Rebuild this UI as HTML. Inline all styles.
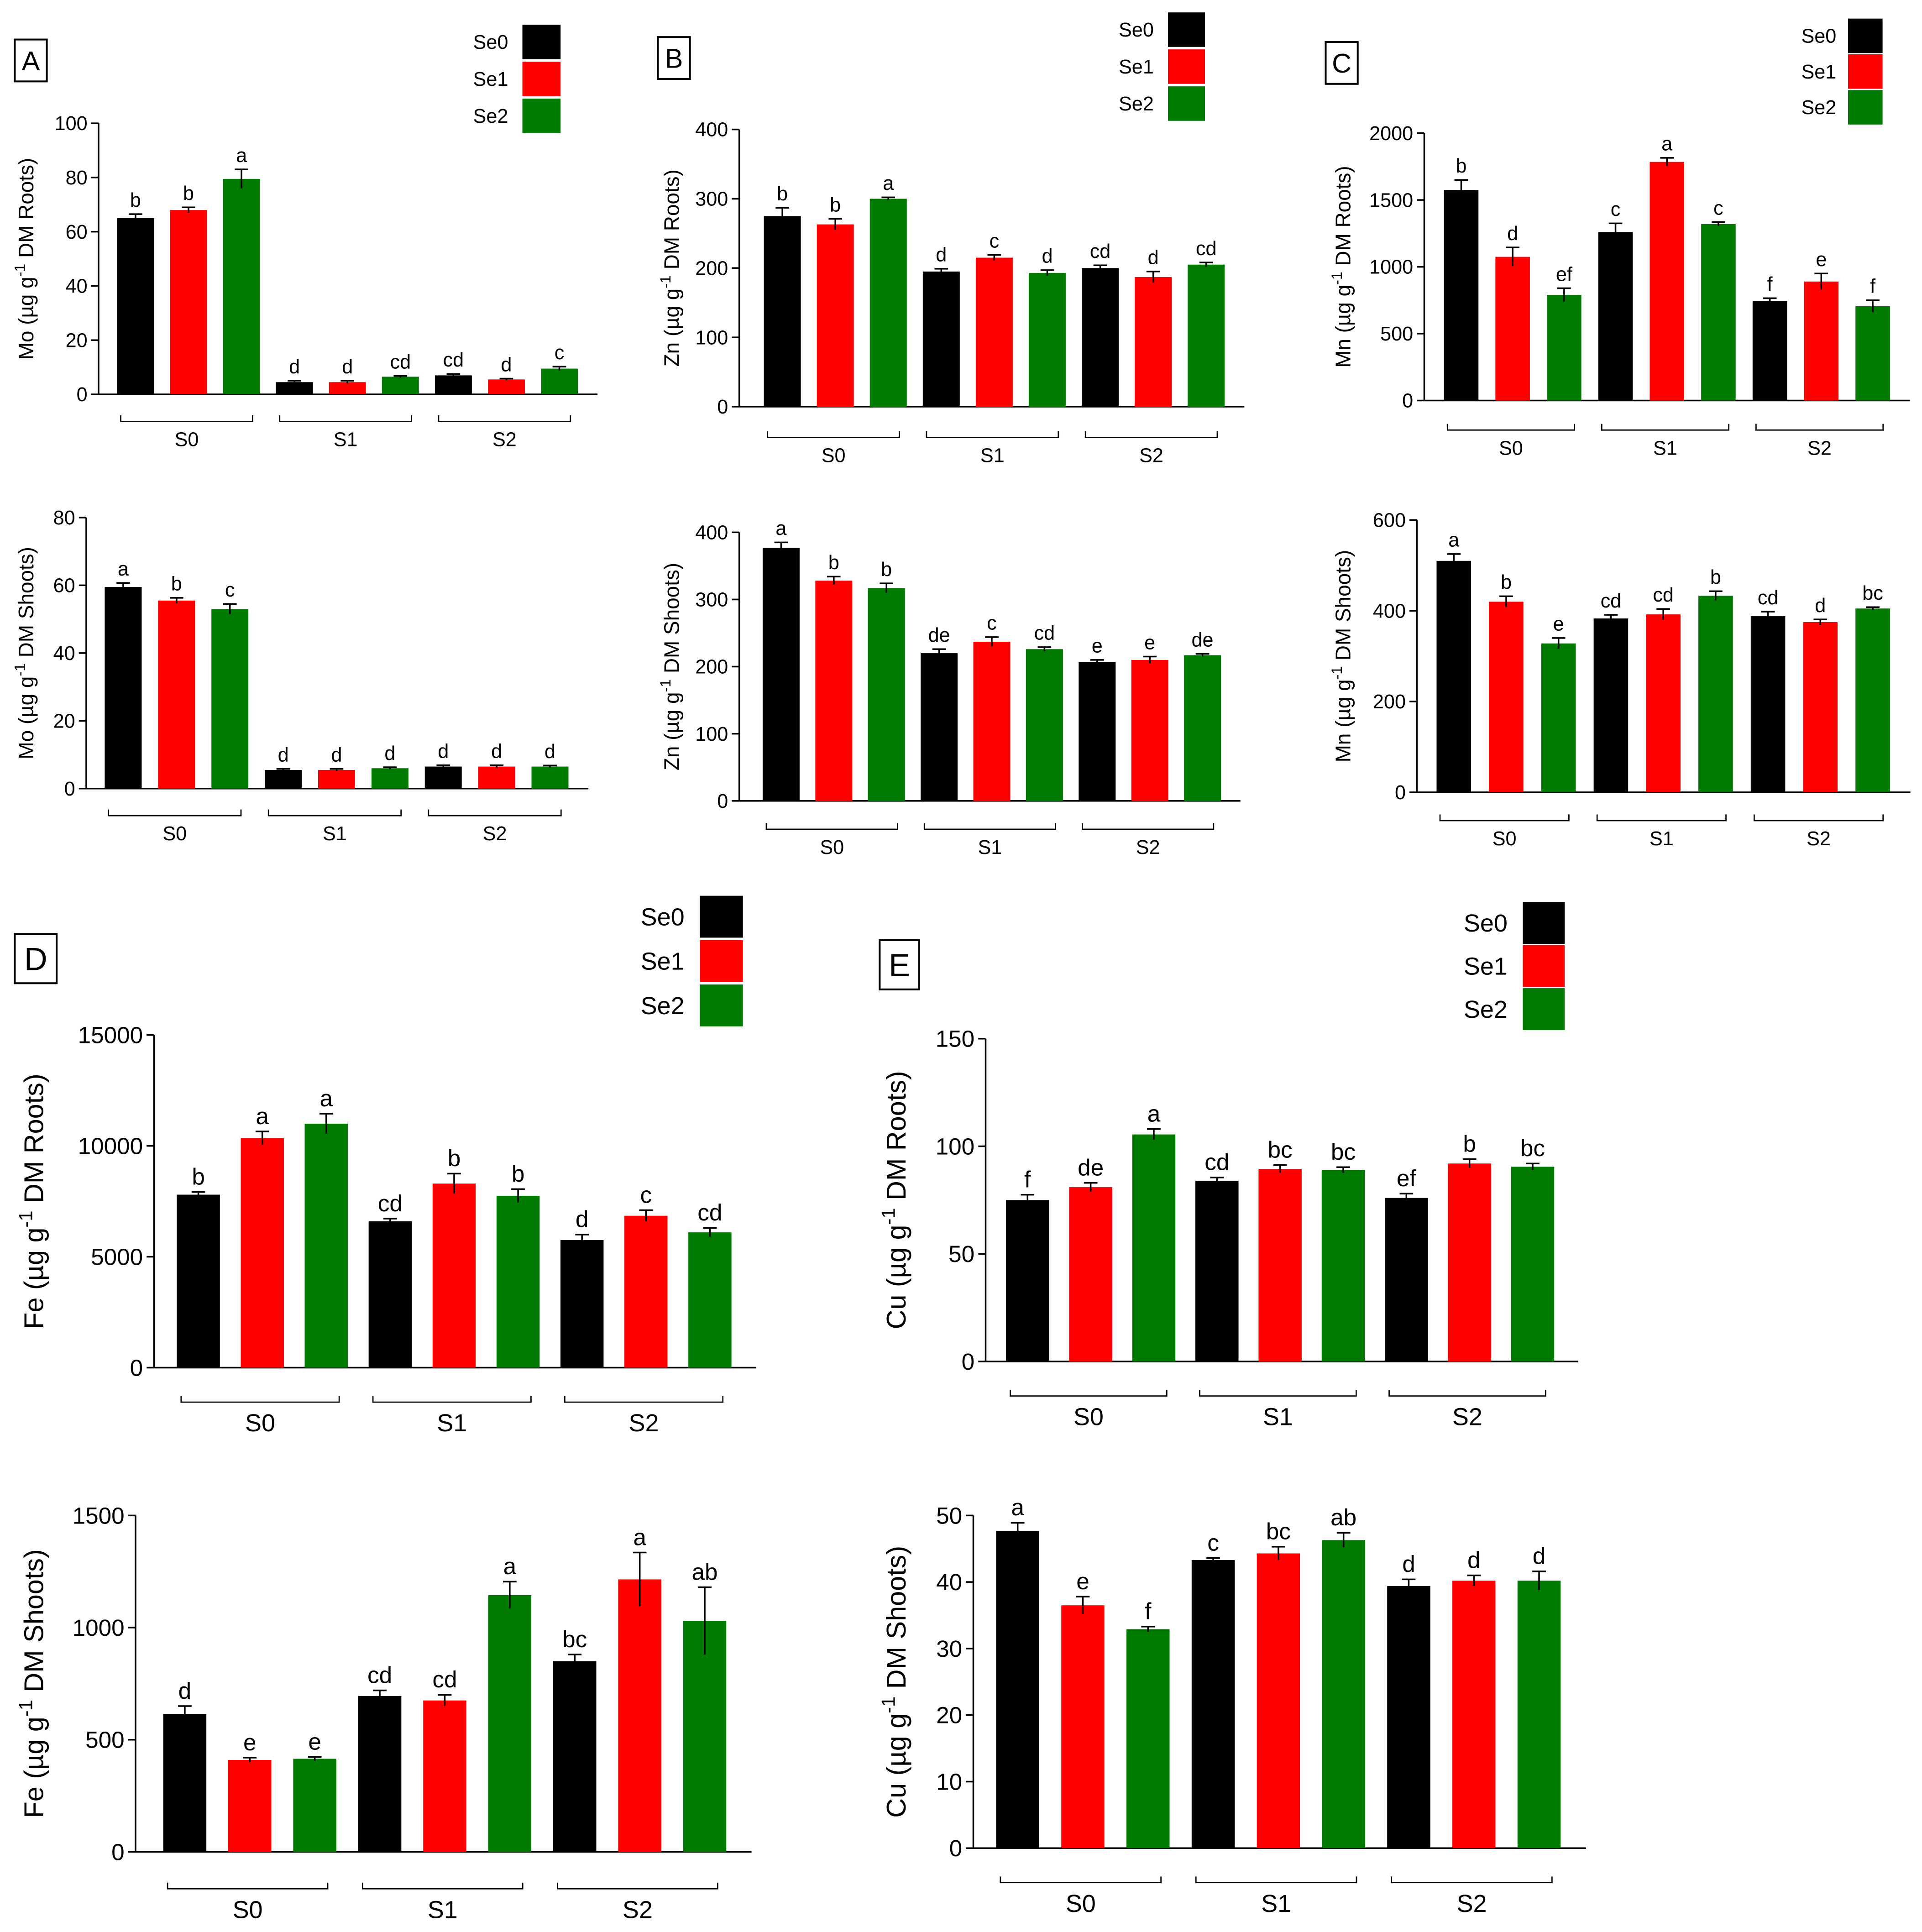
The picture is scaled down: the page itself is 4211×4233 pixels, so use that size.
<!DOCTYPE html>
<html><head><meta charset="utf-8"><style>
html,body{margin:0;padding:0;background:#fff}
svg{display:block}
text{font-family:"Liberation Sans",Arial,sans-serif;fill:#000}
</style></head><body>
<svg id="fig" width="4211" height="4233" viewBox="0 0 1560 1568" xmlns="http://www.w3.org/2000/svg"></svg>
<script>
const groupLabels = ["S0","S1","S2"];
const seriesNames = ["Se0","Se1","Se2"];
const seriesColors = ["#000000","#ff0000","#007a00"];

const moRootVals = [65,68,79.5,4.5,4.5,6.5,7,5.5,9.5];
const moRootErr = [1.5,1,3.5,0.5,0.5,0.3,0.5,0.3,0.7];
const moRootLet = ["b","b","a","d","d","cd","cd","d","c"];
const moRootTicks = [0,20,40,60,80,100];

const moShootVals = [59.5,55.5,53,5.5,5.5,6,6.5,6.5,6.5];
const moShootErr = [1.2,0.8,1.5,0.3,0.3,0.3,0.4,0.4,0.3];
const moShootLet = ["a","b","c","d","d","d","d","d","d"];
const moShootTicks = [0,20,40,60,80];

const znRootVals = [275,263,300,195,215,193,200,187,205];
const znRootErr = [12,8,2,4,4,4,4,8,3];
const znRootLet = ["b","b","a","d","c","d","cd","d","cd"];
const znRootTicks = [0,100,200,300,400];

const znShootVals = [377,328,317,220,237,226,207,210,217];
const znShootErr = [8,6,7,6,7,3,3,5,2];
const znShootLet = ["a","b","b","de","c","cd","e","e","de"];
const znShootTicks = [0,100,200,300,400];

const mnRootVals = [1575,1075,790,1260,1785,1320,745,890,705];
const mnRootErr = [75,70,50,65,30,15,20,60,45];
const mnRootLet = ["b","d","ef","c","a","c","f","e","f"];
const mnRootTicks = [0,500,1000,1500,2000];

const mnShootVals = [510,420,328,383,392,433,388,375,405];
const mnShootErr = [15,12,12,8,12,10,10,6,3];
const mnShootLet = ["a","b","e","cd","cd","b","cd","d","bc"];
const mnShootTicks = [0,200,400,600];

const feRootVals = [7800,10350,11000,6600,8300,7750,5750,6850,6100];
const feRootErr = [120,300,450,120,450,300,250,250,200];
const feRootLet = ["b","a","a","cd","b","b","d","c","cd"];
const feRootTicks = [0,5000,10000,15000];

const feShootVals = [615,410,415,695,675,1145,850,1215,1030];
const feShootErr = [35,10,8,25,25,60,30,120,150];
const feShootLet = ["d","e","e","cd","cd","a","bc","a","ab"];
const feShootTicks = [0,500,1000,1500];

const cuRootVals = [75,81,105.5,84,89.5,89,76,92,90.5];
const cuRootErr = [2.5,2,2.5,1.5,1.8,1.3,2,2,1.5];
const cuRootLet = ["f","de","a","cd","bc","bc","ef","b","bc"];
const cuRootTicks = [0,50,100,150];

const cuShootVals = [47.7,36.5,32.9,43.3,44.3,46.3,39.4,40.2,40.2];
const cuShootErr = [1.2,1.3,0.4,0.3,1,1.1,1,0.8,1.4];
const cuShootLet = ["a","e","f","c","bc","ab","d","d","d"];
const cuShootTicks = [0,10,20,30,40,50];

const svg = document.getElementById('fig');
const NS = "http://www.w3.org/2000/svg";
function mk(tag, attrs, parent){
  const e = document.createElementNS(NS, tag);
  for (const k in attrs) e.setAttribute(k, attrs[k]);
  (parent||svg).appendChild(e);
  return e;
}

function chart(o){
  const g = mk('g', {});
  
  
  const maxV = o.ticks[o.ticks.length-1];
  const yScale = v => o.y0 - (v/maxV)*(o.y0-o.y1);
  const xScale = i => o.c0 + i*o.step;
  const fs = o.fs;
  const ya = mk('line', {x1:o.ax, x2:o.ax, y1:o.y1, y2:o.y0, stroke:'#000','stroke-width':1.3}, g);
  
  
  const xEnd = xScale(8) + o.step*0.72;
  const xa = mk('line', {x1:o.ax, x2:xEnd, y1:o.y0, y2:o.y0, stroke:'#000','stroke-width':1.3}, g);
  
  
  o.ticks.forEach(t => {
    const y = yScale(t);
    mk('line', {x1:o.ax-6, x2:o.ax, y1:y, y2:y, stroke:'#000','stroke-width':1.3}, g);
    const tl = mk('text', {x:o.ax-9, y:y+fs*0.35, 'text-anchor':'end','font-size':fs}, g);
    
    
    tl.textContent = t;
  });
  const cy = (o.y0+o.y1)/2;
  const yt = mk('text', {x:0, y:0, 'text-anchor':'middle','font-size':o.tfs, transform:`translate(${o.tx},${cy}) rotate(-90)`}, g);
  
  
  yt.innerHTML = `${o.el} (µg g<tspan dy="-${o.tfs*0.4}" font-size="${o.tfs*0.7}">-1</tspan><tspan dy="${o.tfs*0.4}"> DM ${o.part})</tspan>`;
  o.vals.forEach((v,i) => {
    const cx = xScale(i);
    const y = yScale(v);
    const b = mk('rect', {x:cx-o.bw/2, y:y, width:o.bw, height:o.y0-y, fill:seriesColors[i%3]}, g);
    
    
    const ye = yScale(v + o.err[i]), yl = yScale(Math.max(0, v - o.err[i]));
    mk('line', {x1:cx, x2:cx, y1:ye, y2:yl, stroke:'#000','stroke-width':1.3}, g);
    mk('line', {x1:cx-5.5, x2:cx+5.5, y1:ye, y2:ye, stroke:'#000','stroke-width':1.3}, g);
    const lt = mk('text', {x:cx, y:ye-6, 'text-anchor':'middle','font-size':fs}, g);
    
    
    lt.textContent = o.lets[i];
  });
  groupLabels.forEach((gl,k) => {
    const xa0 = xScale(k*3) - o.bw*0.4, xa1 = xScale(k*3+2) + o.bw*0.3;
    mk('path', {d:`M${xa0},${o.gy-5}V${o.gy}H${xa1}V${o.gy-5}`, fill:'none', stroke:'#000','stroke-width':1}, g);
    const t = mk('text', {x:(xa0+xa1)/2, y:o.gy+fs*1.25, 'text-anchor':'middle','font-size':o.gfs}, g);
    
    
    t.textContent = gl;
  });
}

function legend(x, y0, bw, bh, gap, lx, fs){
  const g = mk('g', {});
  
  
  seriesNames.forEach((n,i) => {
    const y = y0 + i*gap;
    const r = mk('rect', {x:x, y:y, width:bw, height:bh, fill:seriesColors[i]}, g);
    
    
    const t = mk('text', {x:lx, y:y+bh/2+fs*0.35, 'font-size':fs}, g);
    
    
    t.textContent = n;
  });
}

function panelLabel(txt, x, y, w, h, fs){
  const g = mk('g', {});
  
  
  mk('rect', {x:x, y:y, width:w, height:h, fill:'none', stroke:'#000', 'stroke-width':1.5}, g);
  const t = mk('text', {x:x+w/2, y:y+h/2+fs*0.36, 'text-anchor':'middle','font-size':fs}, g);
  t.textContent = txt;
}

panelLabel('A', 12, 32, 26, 34, 22);
legend(424, 20, 31, 28, 30, 384, 16);
chart({name:'chart-mo-roots', el:'Mo', part:'Roots', ax:80, y0:320, y1:100, c0:110, step:43, bw:30, ticks:moRootTicks, vals:moRootVals, err:moRootErr, lets:moRootLet, gy:342, fs:16, gfs:16, tfs:17, tx:27});
chart({name:'chart-mo-shoots', el:'Mo', part:'Shoots', ax:70, y0:640, y1:420, c0:100, step:43.3, bw:30, ticks:moShootTicks, vals:moShootVals, err:moShootErr, lets:moShootLet, gy:662, fs:16, gfs:16, tfs:17, tx:27});
panelLabel('B', 534, 30, 26, 34, 22);
legend(948, 10, 30, 28, 30, 908, 16);
chart({name:'chart-zn-roots', el:'Zn', part:'Roots', ax:600, y0:330, y1:105, c0:635, step:43, bw:30, ticks:znRootTicks, vals:znRootVals, err:znRootErr, lets:znRootLet, gy:355, fs:16, gfs:16, tfs:17, tx:551});
chart({name:'chart-zn-shoots', el:'Zn', part:'Shoots', ax:600, y0:650, y1:432, c0:634, step:42.75, bw:30, ticks:znShootTicks, vals:znShootVals, err:znShootErr, lets:znShootLet, gy:673, fs:16, gfs:16, tfs:17, tx:551});
panelLabel('C', 1076, 34, 26, 34, 22);
legend(1500, 15, 28, 28, 29, 1462, 16);
chart({name:'chart-mn-roots', el:'Mn', part:'Roots', ax:1156, y0:325, y1:108, c0:1186, step:41.75, bw:28, ticks:mnRootTicks, vals:mnRootVals, err:mnRootErr, lets:mnRootLet, gy:349, fs:16, gfs:16, tfs:17, tx:1096});
chart({name:'chart-mn-shoots', el:'Mn', part:'Shoots', ax:1150, y0:643, y1:422, c0:1180, step:42.5, bw:28, ticks:mnShootTicks, vals:mnShootVals, err:mnShootErr, lets:mnShootLet, gy:666, fs:16, gfs:16, tfs:17, tx:1096});
panelLabel('D', 12, 758, 34, 40, 26);
legend(568, 727, 35, 34, 36, 520, 20);
chart({name:'chart-fe-roots', el:'Fe', part:'Roots', ax:125, y0:1110, y1:840, c0:161, step:51.9, bw:35, ticks:feRootTicks, vals:feRootVals, err:feRootErr, lets:feRootLet, gy:1138, fs:19, gfs:20, tfs:22, tx:35});
chart({name:'chart-fe-shoots', el:'Fe', part:'Shoots', ax:110, y0:1503, y1:1230, c0:150, step:52.75, bw:35, ticks:feShootTicks, vals:feShootVals, err:feShootErr, lets:feShootLet, gy:1533, fs:19, gfs:20, tfs:22, tx:35});
panelLabel('E', 714, 763, 32, 40, 26);
legend(1236, 732, 34, 34, 35, 1188, 20);
chart({name:'chart-cu-roots', el:'Cu', part:'Roots', ax:800, y0:1105, y1:843, c0:834, step:51.25, bw:35, ticks:cuRootTicks, vals:cuRootVals, err:cuRootErr, lets:cuRootLet, gy:1133, fs:19, gfs:20, tfs:22, tx:735});
chart({name:'chart-cu-shoots', el:'Cu', part:'Shoots', ax:790, y0:1500, y1:1230, c0:826, step:52.9, bw:35, ticks:cuShootTicks, vals:cuShootVals, err:cuShootErr, lets:cuShootLet, gy:1528, fs:19, gfs:20, tfs:22, tx:735});
</script>
</body></html>
